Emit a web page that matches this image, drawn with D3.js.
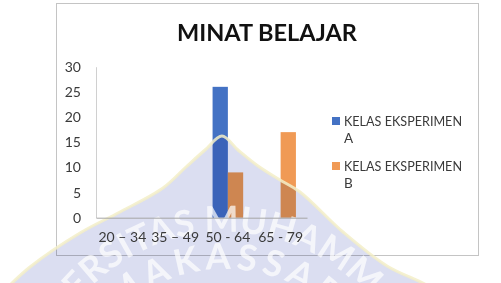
<!DOCTYPE html>
<html>
<head>
<meta charset="utf-8">
<script src="https://cdn.jsdelivr.net/npm/d3@7"></script>
<style>
  body { margin: 0; background: #fff; }
  svg { display: block; font-family: Lato, "Open Sans", sans-serif; }
</style>
</head>
<body>
<div id="chart"></div>
<script>
// data
const categories = ["20 – 34", "35 – 49", "50 - 64", "65 - 79"];
const seriesNames = ["KELAS EKSPERIMEN A", "KELAS EKSPERIMEN B"];
const kelasA = [0, 0, 26, 0];
const kelasB = [0, 0, 9, 17];
const yTicks = [0, 5, 10, 15, 20, 25, 30];
const colors = ["#4472C4", "#F09A55"];

const width = 501, height = 283;

const svg = d3.select("#chart")
  .append("svg")
  .attr("width", width)
  .attr("height", height);

// chart frame
svg.append("rect")
  .attr("x", 56.5).attr("y", 3.5)
  .attr("width", 422).attr("height", 252)
  .attr("fill", "#fff")
  .attr("stroke", "#c4c4c4");

const x0 = d3.scaleBand().domain(categories).range([96, 307]);
const x1 = d3.scaleBand()
  .domain(seriesNames)
  .range([x0.bandwidth() * 0.21, x0.bandwidth() * 0.79]);
const y = d3.scaleLinear().domain([0, 30]).range([217.7, 66.7]);

const rows = categories.map((c, i) => ({ cat: c, values: [kelasA[i], kelasB[i]] }));

svg.append("g")
  .selectAll("g")
  .data(rows)
  .join("g")
  .attr("transform", (d) => `translate(${x0(d.cat)},0)`)
  .selectAll("rect")
  .data((d) => d.values.map((v, j) => ({ key: seriesNames[j], value: v, j: j })))
  .join("rect")
  .attr("x", (d) => x1(d.key))
  .attr("y", (d) => y(d.value))
  .attr("width", x1.bandwidth())
  .attr("height", (d) => y(0) - y(d.value))
  .attr("fill", (d) => colors[d.j]);

// faint university watermark from the scan (sits over the bars)
const wm = svg.append("g").attr("pointer-events", "none");
const domePts = [
  [5, 290], [30, 267], [80, 233], [120, 212], [163, 188], [186, 167], [205, 150], [222, 136],
  [238, 150], [258, 166], [280, 180], [300, 192], [343, 232], [387, 266], [430, 287], [445, 300]
];
const dome = d3.line().curve(d3.curveCatmullRom)(domePts);
wm.append("path")
  .attr("d", dome + "Z")
  .attr("fill", "#cfd3ec")
  .attr("opacity", 0.75)
  .style("mix-blend-mode", "multiply");
wm.append("path")
  .attr("d", dome)
  .attr("fill", "none")
  .attr("stroke", "#f3efc8")
  .attr("stroke-width", 3)
  .attr("opacity", 0.85);

const arcTop = d3.path();
arcTop.arc(225, 423, 191, Math.PI * 1.08, Math.PI * 1.92);
const arcLow = d3.path();
arcLow.arc(225, 423, 154, Math.PI * 1.12, Math.PI * 1.88);
wm.append("path").attr("id", "wmTop").attr("d", arcTop.toString()).attr("fill", "none");
wm.append("path").attr("id", "wmLow").attr("d", arcLow.toString()).attr("fill", "none");

wm.append("text")
  .attr("font-size", 36)
  .attr("font-weight", "bold")
  .attr("fill", "#fff")
  .attr("opacity", 0.7)
  .append("textPath")
  .attr("href", "#wmTop")
  .attr("startOffset", "54%")
  .attr("text-anchor", "middle")
  .text("UNIVERSITAS MUHAMMADIYAH");

wm.append("text")
  .attr("font-size", 36)
  .attr("font-weight", "bold")
  .attr("letter-spacing", 5)
  .attr("fill", "#fff")
  .attr("opacity", 0.7)
  .append("textPath")
  .attr("href", "#wmLow")
  .attr("startOffset", "50%")
  .attr("text-anchor", "middle")
  .text("MAKASSAR");

// axes and texts on top
svg.append("text")
  .attr("x", 267).attr("y", 41)
  .attr("text-anchor", "middle")
  .attr("font-size", 23.5)
  .attr("font-weight", "bold")
  .attr("fill", "#111")
  .text("MINAT BELAJAR");

const yAxis = svg.append("g")
  .attr("transform", "translate(96,0)")
  .call(d3.axisLeft(y).tickValues(yTicks).tickSize(0).tickPadding(15));
yAxis.select(".domain").attr("stroke", "#d0d0d0");
yAxis.selectAll("text")
  .attr("font-size", 14)
  .attr("font-family", "Lato, sans-serif")
  .attr("fill", "#3a3a3a");

const xAxis = svg.append("g")
  .attr("transform", `translate(0,${y(0)})`)
  .call(d3.axisBottom(x0).tickSize(0).tickPadding(14));
xAxis.select(".domain").attr("stroke", "#a6a6a6");
xAxis.selectAll("text")
  .attr("font-size", 14)
  .attr("font-family", "Lato, sans-serif")
  .attr("fill", "#3a3a3a");

// legend
const legend = svg.append("g")
  .selectAll("g")
  .data(seriesNames)
  .join("g")
  .attr("transform", (d, i) => `translate(332,${117 + i * 45})`);

legend.append("rect")
  .attr("width", 8).attr("height", 8)
  .attr("fill", (d, i) => colors[i]);

legend.append("text")
  .attr("font-size", 13.5)
  .attr("fill", "#3a3a3a")
  .selectAll("tspan")
  .data((d) => [d.slice(0, -2), d.slice(-1)])
  .join("tspan")
  .attr("x", 12)
  .attr("y", (d, i) => 9 + i * 17)
  .attr("textLength", (d, i) => (i === 0 ? 118 : null))
  .attr("lengthAdjust", "spacingAndGlyphs")
  .text((d) => d);
</script>
</body>
</html>
